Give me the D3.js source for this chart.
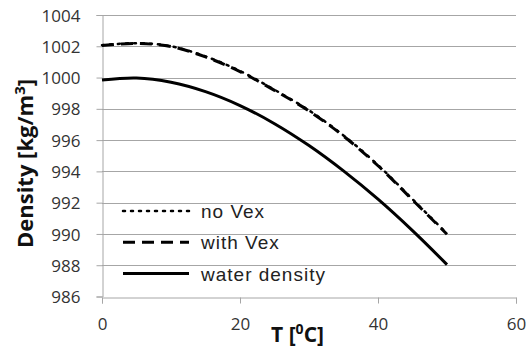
<!DOCTYPE html>
<html>
<head>
<meta charset="utf-8">
<script src="https://cdn.jsdelivr.net/npm/d3@7"></script>
<style>
  body { margin: 0; background: #fff; }
  svg { display: block; }
  .tick text { font-family: "Open Sans", sans-serif; font-size: 17px; fill: #333; }
  .legend text { font-family: "Liberation Sans", Arial, sans-serif; font-size: 19px; letter-spacing: 1px; fill: #222; }
  .axis-title { font-family: "Open Sans", sans-serif; font-weight: bold; fill: #111; }
</style>
</head>
<body>
<svg id="chart" width="526" height="351"></svg>
<script>
var temps = [0, 5, 10, 15, 20, 25, 30, 35, 40, 45, 50];
var noVex = [1002.07, 1002.2, 1002.0, 1001.35, 1000.42, 999.22, 997.9, 996.3, 994.4, 992.22, 990.02];
var withVex = [1002.05, 1002.18, 1001.98, 1001.32, 1000.38, 999.18, 997.86, 996.26, 994.36, 992.18, 989.98];
var waterDensity = [999.84, 999.97, 999.7, 999.1, 998.21, 997.05, 995.65, 994.03, 992.22, 990.21, 988.04];
var xTicks = [0, 20, 40, 60];
var yTicks = [986, 988, 990, 992, 994, 996, 998, 1000, 1002, 1004];
var legendNames = ["no Vex", "with Vex", "water density"];

var svg = d3.select("#chart");
var plotLeft = 102, plotRight = 516, plotTop = 15, plotBottom = 296.5;

var x = d3.scaleLinear().domain([0, 60]).range([plotLeft, plotRight]);
var y = d3.scaleLinear().domain([986, 1004]).range([plotBottom, plotTop]);

// gridlines
svg.append("g").selectAll("line").data(yTicks.slice(1)).enter().append("line")
  .attr("x1", plotLeft).attr("x2", plotRight)
  .attr("y1", function (d) { return Math.round(y(d)) + 0.5; })
  .attr("y2", function (d) { return Math.round(y(d)) + 0.5; })
  .attr("stroke", "#a6a6a6").attr("stroke-width", 1);

var yAxis = svg.append("g")
  .attr("transform", "translate(" + (plotLeft + 0.5) + ",0)")
  .call(d3.axisLeft(y).tickValues(yTicks).tickSize(6).tickPadding(16).tickFormat(d3.format("d")));
var xAxis = svg.append("g")
  .attr("transform", "translate(0," + (Math.round(plotBottom) + 0.5) + ")")
  .call(d3.axisBottom(x).tickValues(xTicks).tickSize(6).tickPadding(14));

[yAxis, xAxis].forEach(function (a) {
  a.attr("font-family", null).attr("font-size", null);
  a.select(".domain").attr("stroke", "#a6a6a6");
  a.selectAll(".tick line").attr("stroke", "#a6a6a6");
});
yAxis.selectAll(".tick text").attr("dy", "0.36em");

var line = d3.line()
  .x(function (d, i) { return x(temps[i]); })
  .y(function (d) { return y(d); })
  .curve(d3.curveCatmullRom);

var styles = [
  { data: noVex, dash: "2,6", cap: "round", width: 2.5 },
  { data: withVex, dash: "12,7", cap: "butt", width: 3 },
  { data: waterDensity, dash: null, cap: "butt", width: 3 }
];

svg.append("g").selectAll("path").data(styles).enter().append("path")
  .attr("d", function (d) { return line(d.data); })
  .attr("fill", "none")
  .attr("stroke", "#000")
  .attr("stroke-width", function (d) { return d.width; })
  .attr("stroke-linecap", function (d) { return d.cap; })
  .attr("stroke-dasharray", function (d) { return d.dash; });

// legend
var legend = svg.append("g").attr("class", "legend")
  .selectAll("g").data(styles).enter().append("g")
  .attr("transform", function (d, i) { return "translate(123," + (211 + i * 31.3) + ")"; });

legend.append("line")
  .attr("x1", 0).attr("x2", 66).attr("y1", 0).attr("y2", 0)
  .attr("stroke", "#000")
  .attr("stroke-width", function (d) { return d.width; })
  .attr("stroke-linecap", function (d) { return d.cap; })
  .attr("stroke-dasharray", function (d) { return d.dash; });

legend.append("text")
  .attr("x", 78).attr("y", 7)
  .text(function (d, i) { return legendNames[i]; });

// axis titles
svg.append("text").attr("class", "axis-title")
  .attr("transform", "translate(33,163.5) rotate(-90)")
  .attr("text-anchor", "middle").attr("font-size", 22)
  .html('Density [kg/m<tspan dy="-8" font-size="15">3</tspan><tspan dy="8">]</tspan>');

svg.append("text").attr("class", "axis-title")
  .attr("x", 297.5).attr("y", 342)
  .attr("text-anchor", "middle").attr("font-size", 21)
  .html('T [<tspan dy="-8" font-size="14">0</tspan><tspan dy="8">C]</tspan>');
</script>
</body>
</html>
